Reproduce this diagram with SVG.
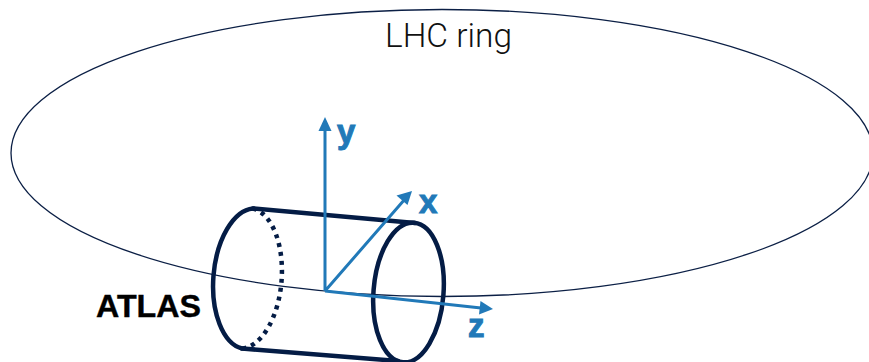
<svg xmlns="http://www.w3.org/2000/svg" width="869" height="362" viewBox="0 0 869 362">
<style>
.ring{fill:none;stroke:#0b1f45;stroke-width:1.3}
.cyl{fill:none;stroke:#041c45;stroke-width:4.500;stroke-linecap:round}
.dot{fill:none;stroke:#041c45;stroke-width:4.500;stroke-dasharray:4 5}
.ax{fill:none;stroke:#2179b8;stroke-width:3}
.axh{fill:#2179b8}
.al{font-family:"Liberation Sans",Arial,sans-serif;font-weight:700;font-size:33px;fill:#2179b8;stroke:#2179b8;stroke-width:1}
</style>
<rect width="869" height="362" fill="#fff"/>
<g id="ring"><ellipse class="ring" cx="442" cy="153" rx="431" ry="143.500"/>
<text x="385" y="47" font-family="Roboto, Liberation Sans, Arial, sans-serif" font-weight="300" font-size="34" fill="#111" textLength="127" lengthAdjust="spacingAndGlyphs">LHC ring</text></g>
<g id="atlas">
<path class="cyl" d="M253 208.500A37.500 70.500 4.500 0 0 242 348.500"/>
<path class="dot" d="M253 208.500A37.500 70.500 4.500 0 1 242 348.500"/>
<path class="cyl" d="M253 208.500L415 223M242 348.500L398 361"/>
<ellipse class="cyl" cx="408.500" cy="292.500" rx="35" ry="70" transform="rotate(4.500 408.500 292.500)"/>
<text x="96" y="317" font-family="Liberation Sans, Arial, sans-serif" font-size="31" font-weight="700" fill="#000" stroke="#000" stroke-width="0.400" textLength="105" lengthAdjust="spacingAndGlyphs">ATLAS</text></g>
<g id="axes">
<path class="ax" d="M325 291V128M325 291L405 199M325 291L481 308"/>
<path class="axh" d="M325 117L331.500 131H318.500Z"/>
<path class="axh" d="M412 191L407.500 205L396.500 195.500Z"/>
<path class="axh" d="M493 309L479 314.500L480.500 301Z"/>
</g>
<g id="labels">
<text class="al" x="337" y="143">y</text>
<text class="al" x="419" y="213">x</text>
<text class="al" x="468" y="337">z</text>
</g>
</svg>
